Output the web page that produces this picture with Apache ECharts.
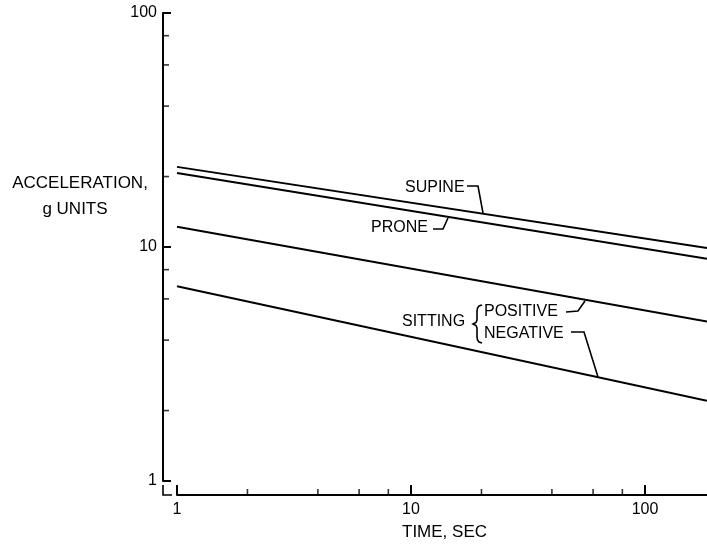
<!DOCTYPE html>
<html>
<head>
<meta charset="utf-8">
<script src="https://cdn.jsdelivr.net/npm/echarts@6/dist/echarts.min.js"></script>
<style>html,body{margin:0;padding:0;background:#fff}#c{width:707px;height:547px}</style>
</head>
<body>
<div id="c"></div>
<script>
// ---- data ----
const timeSec = [1, 184];
const supine = [22, 9.9];
const prone = [20.7, 8.9];
const sittingPositive = [12.2, 4.8];
const sittingNegative = [6.8, 2.2];
const xMinorTicks = [2, 4, 6, 8, 20, 40, 60, 80];
const yMinorTicks = [2, 4, 6, 8, 20, 40, 60, 80];
const xAxisTitle = 'TIME, SEC';
const yAxisTitle = ['ACCELERATION,', 'g UNITS'];

const FONT = '"Liberation Sans", Arial, sans-serif';
const chart = echarts.init(document.getElementById('c'), null, {renderer: 'canvas'});

function pairs(xs, ys) { return xs.map((x, i) => [x, ys[i]]); }
function lineSeries(name, ys) {
  return {
    name, type: 'line', data: pairs(timeSec, ys), showSymbol: false, silent: true,
    lineStyle: {color: '#000', width: 2}, clip: true
  };
}
function txt(text, x, y, align, size) {
  return {type: 'text', x, y, silent: true,
    style: {text, fill: '#000', font: (size || 16) + 'px ' + FONT, textAlign: align || 'left', textVerticalAlign: 'middle'}};
}
function pl(points) {
  return {type: 'polyline', silent: true, shape: {points}, style: {stroke: '#000', lineWidth: 1.6, fill: null}};
}

const option = {
  animation: false,
  backgroundColor: '#fff',
  grid: {left: 177, right: 0, top: 13, bottom: 66, containLabel: false},
  xAxis: {
    type: 'log', logBase: 10, min: 1, max: 184, offset: 14,
    axisLine: {show: true, lineStyle: {color: '#000', width: 2}},
    axisTick: {show: true, inside: true, length: 10, lineStyle: {color: '#000', width: 2}},
    minorTick: {show: false},
    splitLine: {show: false},
    axisLabel: {color: '#000', fontSize: 16, fontFamily: FONT, margin: 7, showMaxLabel: false}
  },
  yAxis: {
    type: 'log', logBase: 10, min: 1, max: 100, offset: 14,
    axisLine: {show: true, lineStyle: {color: '#000', width: 2}},
    axisTick: {show: true, inside: true, length: 8, lineStyle: {color: '#000', width: 2}},
    splitLine: {show: false},
    axisLabel: {color: '#000', fontSize: 16, fontFamily: FONT, margin: 6}
  },
  series: [
    lineSeries('SUPINE', supine),
    lineSeries('PRONE', prone),
    lineSeries('SITTING POSITIVE', sittingPositive),
    lineSeries('SITTING NEGATIVE', sittingNegative),
    {
      type: 'scatter', silent: true, clip: false,
      data: yMinorTicks.map(v => [1, v]),
      symbol: 'rect', symbolSize: [6, 1.6], symbolOffset: [-11, 0],
      itemStyle: {color: '#000'}
    },
    {
      type: 'scatter', silent: true, clip: false,
      data: xMinorTicks.map(v => [v, 1]),
      symbol: 'rect', symbolSize: [1.6, 6], symbolOffset: [0, 11],
      itemStyle: {color: '#000'}
    }
  ],
  graphic: [
    txt(yAxisTitle[0], 80, 183, 'center', 17),
    txt(yAxisTitle[1], 75, 209, 'center', 17),
    txt(xAxisTitle, 402, 532, 'left', 17),
    pl([[163, 485], [163, 495], [172, 495]]),
    txt('SUPINE', 405, 188),
    pl([[467, 186], [478, 186], [483, 213]]),
    txt('PRONE', 371, 228),
    pl([[433, 229], [443, 229], [448, 218]]),
    txt('SITTING', 402, 322),
    pl([[482, 305], [479, 306], [477.5, 308], [477, 311], [477, 320], [476, 322.5], [473, 324],
        [476, 325.5], [477, 328], [477, 337], [477.5, 340], [479, 342], [482, 343]]),
    txt('POSITIVE', 484, 312),
    pl([[566, 312], [578, 311], [585, 301]]),
    txt('NEGATIVE', 484, 334),
    pl([[571, 332], [584, 332], [598, 377]])
  ]
};
chart.setOption(option);
</script>
</body>
</html>
